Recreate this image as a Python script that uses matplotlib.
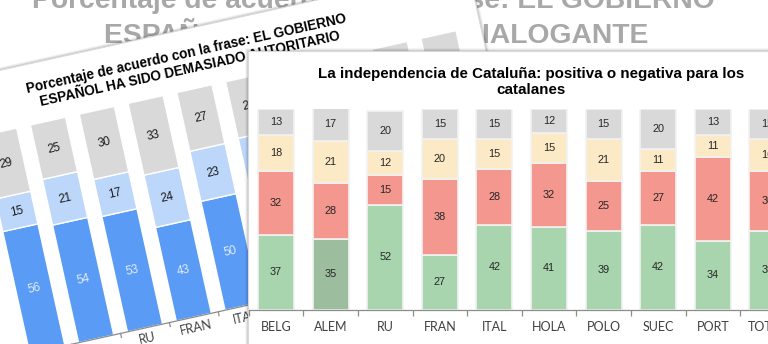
import numpy as np
import matplotlib
matplotlib.use("Agg")
import matplotlib.pyplot as plt
from matplotlib.patches import Rectangle
from matplotlib.transforms import Affine2D

plt.rcParams['font.family'] = ['Liberation Sans', 'DejaVu Sans']

# ---------------- data ----------------
categories = ['BELG', 'ALEM', 'RU', 'FRAN', 'ITAL', 'HOLA', 'POLO', 'SUEC', 'PORT', 'TOTAL']
# front chart: La independencia de Cataluña
positiva = [37, 35, 52, 27, 42, 41, 39, 42, 34, 39]
negativa = [32, 28, 15, 38, 28, 32, 25, 27, 42, 30]
ni_ni = [18, 21, 12, 20, 15, 15, 21, 11, 11, 16]
ns_nc = [13, 17, 20, 15, 15, 12, 15, 20, 13, 15]

# rotated chart behind: EL GOBIERNO ESPAÑOL HA SIDO DEMASIADO AUTORITARIO
aut_acuerdo = [56, 54, 53, 43, 50, 50, 46, 51, 49, 50]
aut_neutral = [15, 21, 17, 24, 23, 24, 23, 20, 24, 21]
aut_nsnc = [29, 25, 30, 33, 27, 26, 31, 29, 27, 29]

bg_title = ["Porcentaje de acuerdo con la frase: EL GOBIERNO", "ESPAÑOL HA SIDO POCO DIALOGANTE"]
left_title = "Porcentaje de acuerdo con la frase: EL GOBIERNO\nESPAÑOL HA SIDO DEMASIADO AUTORITARIO"
main_title = ["La independencia de Cataluña: positiva o negativa para los", "catalanes"]

W, H = 768, 344
fig = plt.figure(figsize=(W / 100, H / 100), dpi=100)
fig.patch.set_facecolor('white')

# ---------------- background faded chart title ----------------
fig.text(373 / W, 1 - 8 / H, bg_title[0], ha='center', va='baseline', fontsize=20.3,
         fontweight='bold', color='#a8a8a8', zorder=1)
fig.text(376 / W, 1 - 43 / H, bg_title[1], ha='center', va='baseline', fontsize=20.3,
         fontweight='bold', color='#a8a8a8', zorder=1)

# ---------------- rotated chart (middle layer) ----------------
axL = fig.add_axes([0, 0, 1, 1], zorder=2)
axL.set_axis_off()
axL.set_autoscale_on(False)
pivot = (145, 16)          # display px of RU category on the axis
spacing_px = 50.0
unit_px = 2.23             # px per percentage point
x_ref = 2
xmin = x_ref - pivot[0] / spacing_px
ymin = -pivot[1] / unit_px
axL.set_xlim(xmin, xmin + W / spacing_px)
axL.set_ylim(ymin, ymin + H / unit_px)
angle = 12.5
T = axL.transData + Affine2D().rotate_deg_around(pivot[0], pivot[1], angle)

# panel + soft shadow
pw = 13.86
for k, a in [(3.0, 0.05), (2.0, 0.07), (1.0, 0.10)]:
    axL.add_patch(Rectangle((-4 - k * 0.02, -40 - k * 0.45), pw + k * 0.04, 166.9 + k * 0.9,
                            transform=T, facecolor='#000000', alpha=a, edgecolor='none', zorder=0.2))
axL.add_patch(Rectangle((-4, -40), pw, 166.9, transform=T, facecolor='white',
                        edgecolor='#d8d8d8', linewidth=0.8, zorder=0.5))

xs = np.arange(len(categories))
acu = np.array(aut_acuerdo)
neu = np.array(aut_neutral)
nsn = np.array(aut_nsnc)
bw = 0.72
axL.bar(xs, acu, width=bw, color='#5a9bf5', edgecolor='white', linewidth=1.0, transform=T, zorder=1)
axL.bar(xs, neu, bottom=acu, width=bw, color='#bdd7fb', edgecolor='white', linewidth=1.0,
        transform=T, zorder=1)
axL.bar(xs, nsn, bottom=acu + neu, width=bw, color='#d9d9d9', edgecolor='white', linewidth=1.0,
        transform=T, zorder=1)
for i in xs:
    axL.text(i, acu[i] / 2, str(acu[i]), transform=T, rotation=angle, rotation_mode='anchor',
             ha='center', va='center', fontsize=8.5, color='#e2edfd', zorder=3)
    axL.text(i, acu[i] + neu[i] / 2, str(neu[i]), transform=T, rotation=angle, rotation_mode='anchor',
             ha='center', va='center', fontsize=8.5, color='#1a1a1a', zorder=3)
    axL.text(i, acu[i] + neu[i] + nsn[i] / 2, str(nsn[i]), transform=T, rotation=angle,
             rotation_mode='anchor', ha='center', va='center', fontsize=8.5, color='#1a1a1a', zorder=3)
    # category labels: only those whose anchor lies on the canvas
    lx, ly = T.transform((i, -11 / unit_px))
    if ly > 0:
        axL.text(i, -11 / unit_px, categories[i], transform=T, rotation=angle, rotation_mode='anchor',
                 ha='center', va='center', fontsize=9, family=['Lato', 'DejaVu Sans'],
                 color='#404040', zorder=3)
axL.plot([-0.5, len(categories) - 0.5], [0, 0], transform=T, color='#8c8c8c', lw=0.9, zorder=2)
for b in np.arange(-0.5, len(categories), 1):
    axL.plot([b, b], [0, -4 / unit_px], transform=T, color='#8c8c8c', lw=0.9, zorder=2)
axL.text(4, 112.5, left_title, transform=T, rotation=angle, rotation_mode='anchor',
         ha='center', va='center', multialignment='center', fontsize=9.8, fontweight='bold',
         color='black', linespacing=1.15, zorder=3)

# ---------------- front panel ----------------
px0, py0 = 248, 51
for k, a in [(3, 0.04), (2, 0.06), (1, 0.09)]:
    fig.add_artist(Rectangle(((px0 - k) / W, -0.1), (W - px0 + 50) / W, (H - py0 + k) / H + 0.1,
                             transform=fig.transFigure, facecolor='black', alpha=a,
                             edgecolor='none', zorder=3))
fig.add_artist(Rectangle((px0 / W, -0.1), (W - px0 + 50) / W, (H - py0) / H + 0.1,
                         transform=fig.transFigure, facecolor='white', edgecolor='#d9d9d9',
                         linewidth=0.8, zorder=4))

fig.text(531 / W, 1 - 78 / H, main_title[0], ha='center', va='baseline', fontsize=10.9,
         fontweight='bold', color='black', zorder=6)
fig.text(531 / W, 1 - 94 / H, main_title[1], ha='center', va='baseline', fontsize=10.9,
         fontweight='bold', color='black', zorder=6)

step = 54.6
axM = fig.add_axes([(276 - step / 2) / W, 34.5 / H, step * 10 / W, 200.5 / H], zorder=5)
axM.set_facecolor('none')
pos_ = np.array(positiva)
neg_ = np.array(negativa)
nin = np.array(ni_ni)
nsc = np.array(ns_nc)
green = ['#a8d5ae'] * len(categories)
green[1] = '#9dbd9f'
bw2 = 0.66
axM.bar(xs, pos_, width=bw2, color=green, edgecolor='#f2f2f2', linewidth=1.2)
axM.bar(xs, neg_, bottom=pos_, width=bw2, color='#f4978f', edgecolor='#f2f2f2', linewidth=1.2)
axM.bar(xs, nin, bottom=pos_ + neg_, width=bw2, color='#fbeac5', edgecolor='#f2f2f2', linewidth=1.2)
axM.bar(xs, nsc, bottom=pos_ + neg_ + nin, width=bw2, color='#d9d9d9', edgecolor='#f2f2f2', linewidth=1.2)
for i in xs:
    b = 0
    for seg in (pos_, neg_, nin, nsc):
        axM.text(i, b + seg[i] / 2, str(seg[i]), ha='center', va='center', fontsize=7.8,
                 color='#262626')
        b += seg[i]
axM.set_xlim(-0.5, len(categories) - 0.5)
axM.set_ylim(0, 100)
for s in ('top', 'right', 'left'):
    axM.spines[s].set_visible(False)
axM.spines['bottom'].set_color('#8c8c8c')
axM.spines['bottom'].set_linewidth(0.9)
axM.set_yticks([])
axM.set_xticks(np.arange(-0.5, len(categories), 1))
axM.set_xticklabels([])
axM.tick_params(axis='x', which='major', direction='out', length=4, width=0.9, color='#8c8c8c')
axM.set_xticks(xs, minor=True)
axM.set_xticklabels(categories, minor=True, fontsize=9, family=['Lato', 'DejaVu Sans'], color='#404040')
axM.tick_params(axis='x', which='minor', length=0, pad=8)

fig.savefig('out.png', dpi=100, facecolor='white')
